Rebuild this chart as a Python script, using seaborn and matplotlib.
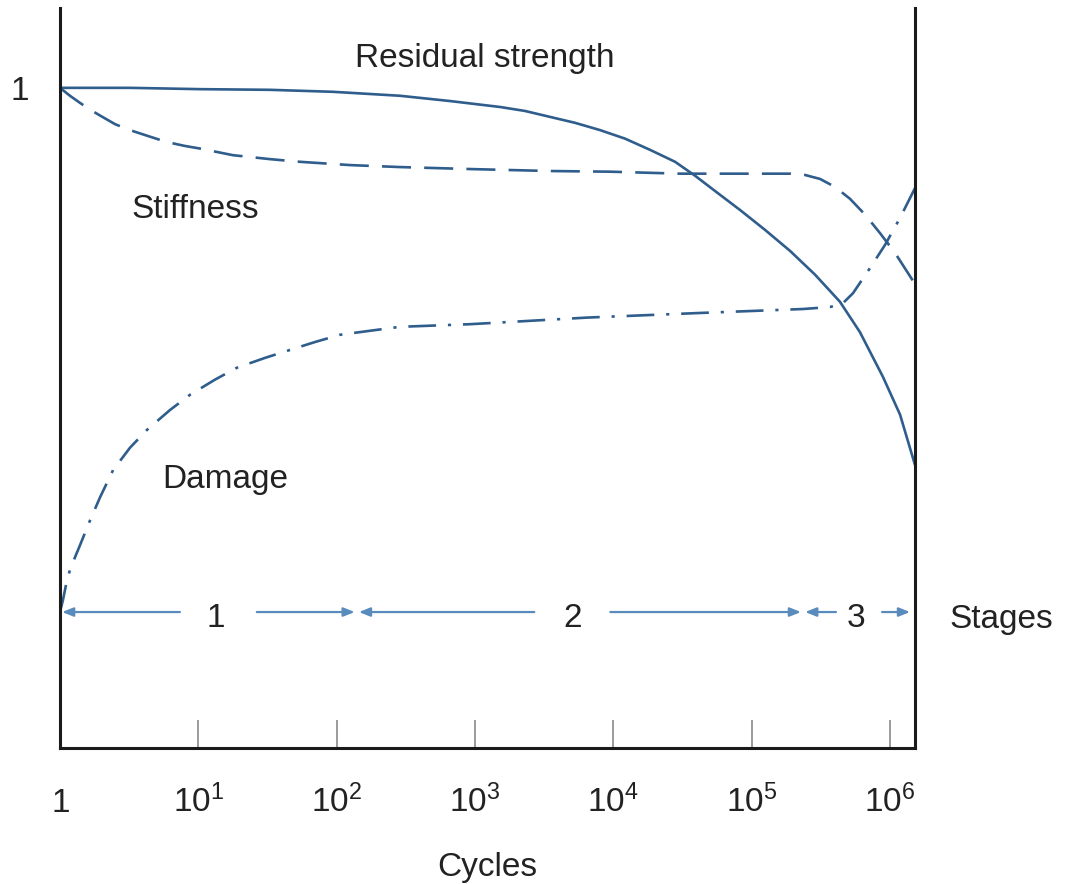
import numpy as np
import pandas as pd
import matplotlib
matplotlib.use("Agg")
import matplotlib.pyplot as plt
from matplotlib import font_manager
from matplotlib.ticker import NullLocator
import seaborn as sns

# ---------------- data ----------------
strength_cycles = [1, 3.2, 10.3, 33, 94, 287, 661, 1520, 2300, 3490, 5300, 8030, 12200,
                   18500, 28000, 39000, 59200, 82600, 125000, 190000, 288000, 436000,
                   608000, 893000, 1186000, 1520000]
strength_values = [1.000, 1.000, 0.998, 0.997, 0.994, 0.988, 0.980, 0.971, 0.965, 0.956,
                   0.947, 0.936, 0.923, 0.906, 0.888, 0.867, 0.838, 0.815, 0.785, 0.753,
                   0.717, 0.676, 0.630, 0.562, 0.505, 0.429]

stiffness_cycles = [1, 1.18, 1.4, 1.65, 1.95, 2.5, 3.2, 4.48, 5.9, 8.0, 10.3, 17.8, 33, 54,
                    125, 287, 922, 3490, 9480, 30400, 97500, 190000, 244000, 313000, 401000,
                    515000, 662000, 849000, 1091000, 1520000]
stiffness_values = [1.000, 0.988, 0.977, 0.967, 0.958, 0.945, 0.936, 0.926, 0.918, 0.912,
                    0.908, 0.898, 0.892, 0.888, 0.883, 0.880, 0.877, 0.874, 0.873, 0.870,
                    0.870, 0.870, 0.868, 0.862, 0.850, 0.832, 0.808, 0.780, 0.750, 0.703]

damage_cycles = [1, 1.05, 1.105, 1.18, 1.284, 1.4, 1.65, 1.95, 2.42, 3.21, 4.26, 6.24, 8.7,
                 13.2, 19, 30.4, 46, 69.8, 106, 174, 287, 922, 6470, 42400, 236000, 370000,
                 459000, 542000, 719000, 923000, 1186000, 1520000]
damage_values = [0.206, 0.224, 0.247, 0.270, 0.289, 0.308, 0.345, 0.380, 0.421, 0.455,
                 0.482, 0.512, 0.535, 0.558, 0.576, 0.591, 0.603, 0.615, 0.626, 0.632,
                 0.638, 0.642, 0.652, 0.659, 0.665, 0.668, 0.674, 0.689, 0.727, 0.762,
                 0.803, 0.848]

curve_names = ["Residual strength", "Stiffness", "Damage"]

stage_labels = ["1", "2", "3"]
stage_bounds = [1, 140, 236000, 1450000]
stage_label_x = [13.4, 5120, 570000]
stage_level = 0.206

x_ticks = [1, 10, 100, 1e3, 1e4, 1e5, 1e6]
x_tick_labels = [r"$\mathregular{1}$", r"$\mathregular{10^{1}}$", r"$\mathregular{10^{2}}$",
                 r"$\mathregular{10^{3}}$", r"$\mathregular{10^{4}}$",
                 r"$\mathregular{10^{5}}$", r"$\mathregular{10^{6}}$"]
y_ticks = [1]
y_tick_labels = ["1"]
x_label = "Cycles"
stages_title = "Stages"

# ---------------- style ----------------
sns.set_theme(style="white")
available = {f.name for f in font_manager.fontManager.ttflist}
base_font = "Liberation Sans Narrow" if "Liberation Sans Narrow" in available else "Liberation Sans"
plt.rcParams["font.family"] = [base_font, "DejaVu Sans"]
plt.rcParams["mathtext.fontset"] = "custom"
plt.rcParams["mathtext.rm"] = base_font
plt.rcParams["mathtext.it"] = base_font
plt.rcParams["mathtext.bf"] = base_font

line_color = "#2f5d8c"
arrow_color = "#5a8bbd"
text_color = "#222222"
fs = 24

fig = plt.figure(figsize=(10.81, 8.84), dpi=100)
ax = fig.add_axes([0.0555, 0.1538, 0.7909, 0.8372])
ax.set_xscale("log")

df = pd.concat([
    pd.DataFrame({"cycles": strength_cycles, "value": strength_values, "curve": curve_names[0]}),
    pd.DataFrame({"cycles": stiffness_cycles, "value": stiffness_values, "curve": curve_names[1]}),
    pd.DataFrame({"cycles": damage_cycles, "value": damage_values, "curve": curve_names[2]}),
], ignore_index=True)

sns.lineplot(data=df, x="cycles", y="value", style="curve",
             dashes={curve_names[0]: "", curve_names[1]: (11, 5), curve_names[2]: (10.5, 4.5, 1.2, 4.5)},
             color=line_color, linewidth=1.9, estimator=None, sort=False, legend=False, ax=ax)
for ln in ax.lines:
    ln.set_solid_joinstyle("round")
    ln.set_dash_joinstyle("round")

ax.set_xlim(1, 1.52e6)
ax.set_ylim(0, 1.121)

# spines
ax.spines["top"].set_visible(False)
for s in ["left", "right", "bottom"]:
    ax.spines[s].set_linewidth(2.2)
    ax.spines[s].set_color("#1a1a1a")

# ticks
ax.set_xticks(x_ticks)
ax.set_xticklabels(x_tick_labels)
ax.xaxis.set_minor_locator(NullLocator())
ax.tick_params(axis="x", direction="in", length=20, width=1.2, color="#8a8a8a",
               pad=46, labelsize=fs, labelcolor=text_color, bottom=True)
for t in ax.get_xticklabels():
    t.set_verticalalignment("baseline")
ax.set_yticks(y_ticks)
ax.set_yticklabels(y_tick_labels)
ax.tick_params(axis="y", length=0, pad=22, labelsize=fs, labelcolor=text_color)
ax.set_xlabel(x_label, fontsize=fs, color=text_color)
ax.xaxis.set_label_coords(0.5, -0.14)
ax.set_ylabel("")

# curve labels
ax.text(1180, 1.045, curve_names[0], fontsize=fs, color=text_color, ha="center", va="center")
ax.text(9.5, 0.815, curve_names[1], fontsize=fs, color=text_color, ha="center", va="center")
ax.text(15.6, 0.406, curve_names[2], fontsize=fs, color=text_color, ha="center", va="center")

# stage arrows
gap_lo = [0.26, 0.28, 0.145]   # decades left of label centre
gap_hi = [0.296, 0.27, 0.188]  # decades right of label centre
for i, lab in enumerate(stage_labels):
    c = stage_label_x[i]
    left_edge = c / 10 ** gap_lo[i]
    right_edge = c * 10 ** gap_hi[i]
    akw = dict(arrowstyle="-|>,head_length=0.55,head_width=0.22", color=arrow_color,
               lw=1.6, shrinkA=0, shrinkB=1.5)
    ax.annotate("", xy=(stage_bounds[i], stage_level), xytext=(left_edge, stage_level),
                arrowprops=akw, annotation_clip=False)
    ax.annotate("", xy=(stage_bounds[i + 1], stage_level), xytext=(right_edge, stage_level),
                arrowprops=akw, annotation_clip=False)
    ax.text(c, stage_level - 0.01, lab, fontsize=fs, color=text_color, ha="center", va="center")

ax.text(6.37e6, stage_level - 0.012, stages_title, fontsize=fs, color=text_color,
        ha="center", va="center", clip_on=False)

fig.savefig("out.png", dpi=100, facecolor="white")
